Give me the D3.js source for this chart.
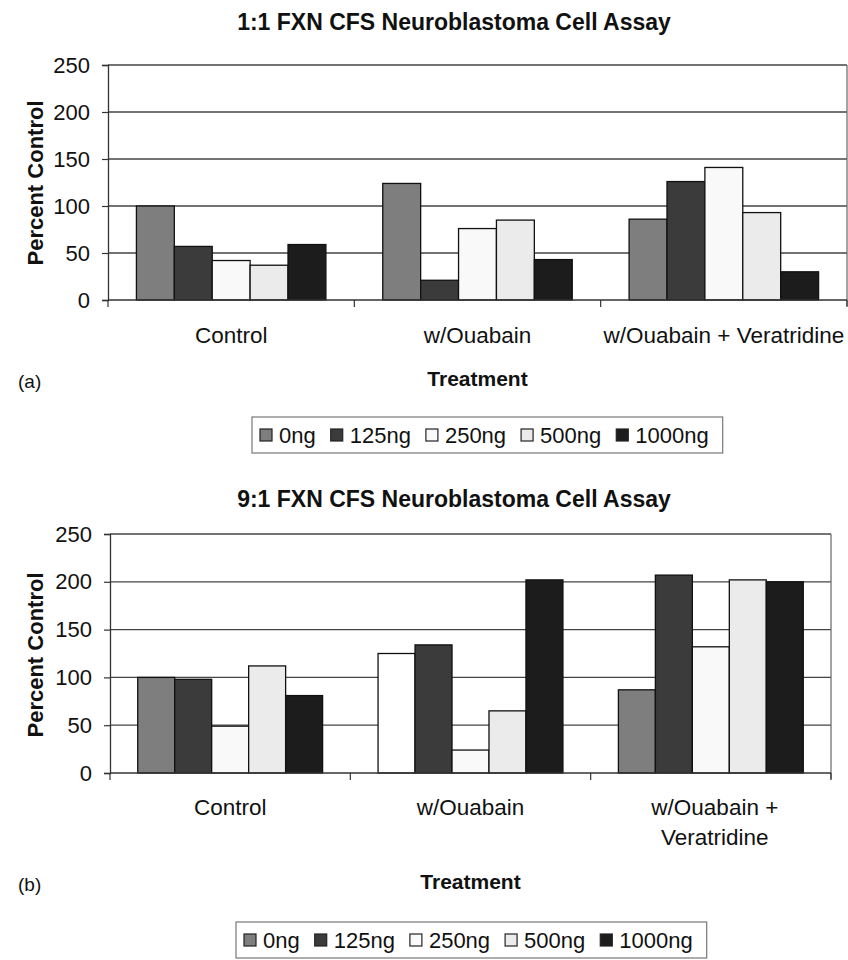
<!DOCTYPE html>
<html><head><meta charset="utf-8">
<script src="https://cdn.jsdelivr.net/npm/d3@7"></script>
<style>
html,body{margin:0;padding:0;background:#fff;}
svg{display:block;}
text{font-family:"Liberation Sans",Arial,Helvetica,sans-serif;fill:#111;}
</style></head>
<body>
<svg id="chart" width="848" height="960"></svg>
<script>
// ---- data ----
const categories = ["Control", "w/Ouabain", "w/Ouabain + Veratridine"];
const categoryLinesB = [["Control"], ["w/Ouabain"], ["w/Ouabain +", "Veratridine"]];
const series = ["0ng", "125ng", "250ng", "500ng", "1000ng"];
const yTicks = [0, 50, 100, 150, 200, 250];
const titleA = "1:1 FXN CFS Neuroblastoma Cell Assay";
const titleB = "9:1 FXN CFS Neuroblastoma Cell Assay";
// values[category][series]
const valuesA = [
  [100, 57, 42, 37, 59],
  [124, 21, 76, 85, 43],
  [86, 126, 141, 93, 30]
];
const valuesB = [
  [100, 98, 49, 112, 81],
  [125, 134, 24, 65, 202],
  [87, 207, 132, 202, 200]
];

// ---- styles ----
const colors = ["#7e7e7e", "#3b3b3b", "#f9f9f9", "#ebebeb", "#1c1c1c"];
const FONT = '"Liberation Sans",Arial,Helvetica,sans-serif';
const svg = d3.select("#chart");

function drawChart(cfg) {
  const g = svg.append("g");
  const x0 = d3.scaleBand().domain(categories).range([cfg.left, cfg.right]).paddingInner(0).paddingOuter(0);
  const step = x0.bandwidth();
  const barW = step / 6.5;
  const x1 = d3.scaleBand().domain(series).range([barW * 0.75, step - barW * 0.75]).padding(0);
  const y = d3.scaleLinear().domain([0, 250]).range([cfg.bottom, cfg.top]);

  // title
  g.append("text").attr("x", cfg.titleX).attr("y", cfg.titleY)
    .attr("text-anchor", "middle").attr("font-weight", "bold").attr("font-size", 23)
    .text(cfg.title);

  // gridlines
  g.append("g").selectAll("line").data(yTicks.filter(d => d > 0)).join("line")
    .attr("x1", cfg.left).attr("x2", cfg.right)
    .attr("y1", d => y(d)).attr("y2", d => y(d))
    .attr("stroke", "#444").attr("stroke-width", 1.3);
  // right border
  g.append("line").attr("x1", cfg.right).attr("x2", cfg.right)
    .attr("y1", cfg.top).attr("y2", cfg.bottom + 6)
    .attr("stroke", "#666").attr("stroke-width", 1.2);

  // bars
  const data = [];
  categories.forEach((c, ci) => series.forEach((s, si) => data.push({c, s, ci, si, v: cfg.values[ci][si]})));
  g.append("g").selectAll("rect").data(data).join("rect")
    .attr("x", d => x0(d.c) + x1(d.s))
    .attr("width", x1.bandwidth())
    .attr("y", d => y(d.v))
    .attr("height", d => y(0) - y(d.v))
    .attr("fill", d => (cfg.whiteBar && cfg.whiteBar[0] === d.ci && cfg.whiteBar[1] === d.si) ? "#ffffff" : colors[d.si])
    .attr("stroke", "#111").attr("stroke-width", 1.3);

  // y axis
  const ya = d3.axisLeft(y).tickValues(yTicks).tickSize(6).tickPadding(12);
  const yg = g.append("g").attr("transform", `translate(${cfg.left},0)`).call(ya);
  yg.select(".domain").attr("stroke", "#333").attr("stroke-width", 1.3);
  yg.selectAll(".tick line").attr("stroke", "#333").attr("stroke-width", 1.2);
  yg.selectAll(".tick text").attr("font-size", 22).attr("font-family", FONT).attr("fill", "#111");

  // x axis (ticks at category boundaries)
  const xa = g.append("g");
  xa.append("line").attr("x1", cfg.left).attr("x2", cfg.right).attr("y1", y(0)).attr("y2", y(0))
    .attr("stroke", "#333").attr("stroke-width", 1.3);
  const bounds = categories.map(c => x0(c)).concat([cfg.right]);
  xa.selectAll("line.t").data(bounds).join("line").attr("class", "t")
    .attr("x1", d => d).attr("x2", d => d).attr("y1", y(0)).attr("y2", y(0) + 7)
    .attr("stroke", "#333").attr("stroke-width", 1.2);
  // category labels
  cfg.catLines.forEach((lines, ci) => {
    lines.forEach((ln, li) => {
      xa.append("text").attr("x", x0(categories[ci]) + step / 2 + (cfg.catDx ? cfg.catDx[ci] : 0))
        .attr("y", cfg.catY + li * 30).attr("text-anchor", "middle").attr("font-size", 22.5).text(ln);
    });
  });

  // axis titles
  g.append("text").attr("transform", `translate(${cfg.yLabelX},${cfg.yLabelY}) rotate(-90)`)
    .attr("text-anchor", "middle").attr("font-weight", "bold").attr("font-size", 22).text("Percent Control");
  g.append("text").attr("x", (cfg.left + cfg.right) / 2).attr("y", cfg.xLabelY)
    .attr("text-anchor", "middle").attr("font-weight", "bold").attr("font-size", 21).text("Treatment");
  g.append("text").attr("x", 18).attr("y", cfg.xLabelY + 2).attr("font-family", '"Liberation Serif","Times New Roman",serif')
    .attr("font-size", 19).text(cfg.panel);

  // legend
  const lg = g.append("g");
  const box = lg.append("rect").attr("x", cfg.legX).attr("y", cfg.legY).attr("height", cfg.legH)
    .attr("fill", "#fff").attr("stroke", "#777").attr("stroke-width", 1.2);
  let cx = cfg.legX + 8;
  const midY = cfg.legY + cfg.legH / 2;
  series.forEach((s, si) => {
    lg.append("rect").attr("x", cx).attr("y", midY - 6).attr("width", 12).attr("height", 12)
      .attr("fill", colors[si]).attr("stroke", "#222").attr("stroke-width", 1.2);
    cx += 12 + 7;
    const t = lg.append("text").attr("x", cx).attr("y", midY + 7.5).attr("font-size", 22).text(s);
    cx += t.node().getComputedTextLength() + (si < series.length - 1 ? 15 : 14);
  });
  box.attr("width", cx - cfg.legX);
}

drawChart({
  title: titleA, titleX: 454, titleY: 30, values: valuesA, panel: "(a)",
  left: 108, right: 847, top: 65, bottom: 300,
  catLines: categories.map(c => [c]), catY: 343,
  yLabelX: 43, yLabelY: 183, xLabelY: 386,
  legX: 252, legY: 417, legH: 36
});
drawChart({
  title: titleB, titleX: 454, titleY: 507, values: valuesB, panel: "(b)", whiteBar: [1, 0],
  left: 110, right: 831, top: 534, bottom: 773,
  catLines: categoryLinesB, catY: 815, catDx: [0, 0, 4],
  yLabelX: 43, yLabelY: 655, xLabelY: 889,
  legX: 236, legY: 922, legH: 36
});
</script>
</body></html>
